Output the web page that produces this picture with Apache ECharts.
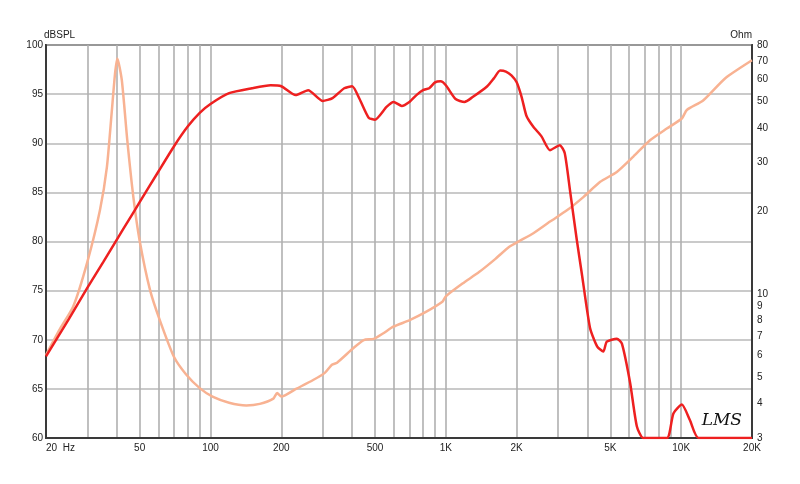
<!DOCTYPE html>
<html><head><meta charset="utf-8">
<script src="https://cdn.jsdelivr.net/npm/echarts@6/dist/echarts.min.js"></script>
<style>html,body{margin:0;padding:0;background:#fff}#c{width:800px;height:484px}</style>
</head><body><div id="c"></div>
<script>
// SPL response (dB) vs frequency (Hz)
const splFreq = [20,25,30,35,40,45,50,60,70,80,90,100,120,150,180,200,230,260,300,330,370,400,430,470,500,560,600,650,700,750,800,850,900,950,1000,1100,1200,1300,1500,1600,1700,1800,1900,2000,2100,2200,2350,2550,2770,3050,3200,3370,3600,3780,4100,4400,4670,4830,5330,5600,6070,6480,6900,8700,9270,10070,10900,11850,20000];
const splDb   = [68.3,72.1,75.3,77.9,80.2,82.2,84.0,87.1,89.7,91.7,93.1,94.0,95.1,95.6,95.9,95.8,94.9,95.4,94.3,94.6,95.6,95.8,94.5,92.6,92.4,93.7,94.2,93.8,94.2,94.9,95.4,95.6,96.2,96.3,95.9,94.5,94.2,94.7,95.8,96.6,97.4,97.3,96.9,96.2,94.7,92.8,91.7,90.7,89.3,89.8,89.0,85.2,80.2,76.8,71.2,69.3,68.8,69.8,70.1,69.6,65.6,61.2,60,60,62.5,63.4,61.8,60,60];
// Impedance (Ohm) vs frequency (Hz)
const impFreq = [20,22.8,26.1,30,33.9,36.3,38,39.3,40.2,42,44.3,47,50,55.4,61,70,78.8,90,102,120,142,162,185,192,200,232,273,306,328,345,404,448,494,543,598,702,823,967,1000,1177,1384,1625,1855,2068,2355,2773,3270,3851,4530,5327,6264,7373,8689,10066,10570,12400,15400,20000];
const impOhm  = [6.0,7.4,9.0,13.1,20.1,28.9,45.1,63.0,71.5,59.6,36.1,22.5,15.6,10.3,8.0,5.9,5.1,4.55,4.24,4.03,3.94,3.99,4.17,4.37,4.24,4.53,4.87,5.17,5.53,5.63,6.35,6.8,6.87,7.2,7.6,8.03,8.6,9.36,9.8,10.9,12.0,13.4,14.8,15.6,16.6,18.3,20.1,22.5,25.5,27.7,31.5,36.1,39.8,43.3,46.5,50.3,60.6,70.4];
// Axis ticks
const xGridValues = [20,30,40,50,60,70,80,90,100,200,300,400,500,600,700,800,900,1000,2000,3000,4000,5000,6000,7000,8000,9000,10000,20000];
const xLabelValues = [20,50,100,200,500,1000,2000,5000,10000,20000];
const dbMin = 60, dbMax = 100, dbStep = 5;
const ohmLabelValues = [3,4,5,6,7,8,9,10,20,30,40,50,60,70,80];

const font = 'Liberation Sans';
const chart = echarts.init(document.getElementById('c'), null, {renderer:'canvas'});
chart.setOption({
  animation:false,
  grid:{left:46,right:48,top:45,bottom:46,show:true,borderColor:'#3a3a3a',borderWidth:2,backgroundColor:'transparent'},
  xAxis:{
    type:'log', logBase:10, min:20, max:20000,
    axisLine:{show:true,lineStyle:{color:'#3a3a3a',width:2}},
    axisTick:{show:false,customValues:xGridValues},
    splitLine:{show:true,lineStyle:{color:'#b0b0b0',width:1.6}},
    axisLabel:{customValues:xLabelValues,color:'#222',fontFamily:font,fontSize:10,margin:5,alignMinLabel:'left',
      formatter:v=>{ if(Math.abs(v-20)<1e-6) return '20  Hz'; return v>=1000? Math.round(v/1000)+'K' : String(Math.round(v)); }}
  },
  yAxis:[
    {type:'value',min:dbMin,max:dbMax,interval:dbStep,position:'left',
     name:'dBSPL',nameLocation:'end',nameGap:3,nameTextStyle:{color:'#222',fontFamily:font,fontSize:10,align:'left',padding:[0,0,0,-2]},
     axisLine:{show:true,lineStyle:{color:'#3a3a3a',width:2}},axisTick:{show:false},
     splitLine:{show:true,lineStyle:{color:'#b8b8b8',width:1.6}},
     axisLabel:{color:'#222',fontFamily:font,fontSize:10,margin:3}},
    {type:'log',logBase:10,min:3,max:80,position:'right',
     name:'Ohm',nameLocation:'end',nameGap:3,nameTextStyle:{color:'#222',fontFamily:font,fontSize:10,align:'right'},
     axisLine:{show:true,lineStyle:{color:'#3a3a3a',width:2}},axisTick:{show:false,customValues:ohmLabelValues},
     splitLine:{show:false},
     axisLabel:{customValues:ohmLabelValues,color:'#222',fontFamily:font,fontSize:10,margin:5,formatter:v=>String(Math.round(v))}}
  ],
  series:[
    {type:'line',name:'Impedance',yAxisIndex:1,showSymbol:false,smooth:0.2,
     lineStyle:{color:'#f8b292',width:2.5},data:impFreq.map((f,i)=>[f,impOhm[i]]),z:3},
    {type:'line',name:'SPL',yAxisIndex:0,showSymbol:false,smooth:0.2,
     lineStyle:{color:'#ee2020',width:2.5},data:splFreq.map((f,i)=>[f,splDb[i]]),z:4}
  ],
  graphic:[{type:'text',right:58,bottom:55,style:{text:'LMS',font:'italic 17px "DejaVu Serif"',fill:'#111'}}]
});
</script></body></html>
